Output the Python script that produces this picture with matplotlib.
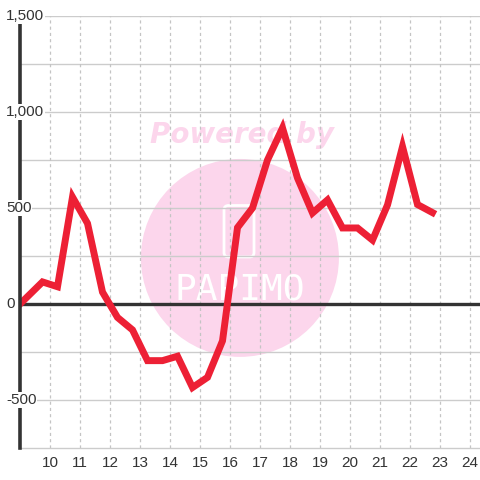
import matplotlib.pyplot as plt
from matplotlib.patches import Ellipse, FancyBboxPatch
import matplotlib.transforms as mtransforms

plt.rcParams['font.family'] = ['Liberation Sans', 'DejaVu Sans']

# data
x_vals = [9.0, 9.75, 10.25, 10.75, 11.25, 11.75, 12.25, 12.75, 13.25, 13.75,
          14.25, 14.75, 15.25, 15.75, 16.25, 16.75, 17.25, 17.75, 18.25, 18.75,
          19.25, 19.75, 20.25, 20.75, 21.25, 21.75, 22.25, 22.75]
y_vals = [0, 115, 90, 557, 420, 62, -70, -135, -295, -295,
          -272, -435, -382, -192, 398, 500, 750, 917, 656, 474,
          542, 396, 396, 333, 516, 820, 518, 476]
x_ticks = list(range(10, 25))
y_label_ticks = [1500, 1000, 500, 0, -500]
y_grid = [-500, -250, 0, 250, 500, 750, 1000, 1250, 1500]

fig = plt.figure(figsize=(4.8, 4.8), dpi=100)
ax = fig.add_axes([20 / 480, 32 / 480, 460 / 480, 432 / 480])
ax.set_xlim(9, 24.333)
ax.set_ylim(-750, 1500)

# watermark
pink = '#FCD6EC'
ax.add_patch(Ellipse((16.33, 240), 6.6, 1031, color=pink, zorder=0, lw=0))
ax.text(16.4, 880, 'Powered by', color=pink, fontsize=20, fontweight='bold',
        fontstyle='italic', family='DejaVu Sans', ha='center', va='center', zorder=0)
ax.add_patch(FancyBboxPatch((15.8, 245), 1.0, 268, boxstyle='round,pad=0,rounding_size=0.15',
                            fill=False, ec='white', lw=2, zorder=0.5,
                            mutation_aspect=156))
ax.text(16.33, 75, 'PAPIMO', color='white', fontsize=26, family='DejaVu Sans Mono',
        ha='center', va='center', zorder=0.5)

# grid
for v in y_grid:
    ax.axhline(v, color='#cccccc', lw=1, zorder=1)
for t in x_ticks:
    ax.axvline(t, color='#c4c4c4', lw=0.9, ls=(0, (2.5, 2.5)), zorder=1)
ax.axhline(0, color='#333333', lw=2.4, zorder=2)

ax.plot(x_vals, y_vals, color='#ED2035', lw=5, solid_joinstyle='miter', zorder=3)

for s in ['top', 'right']:
    ax.spines[s].set_visible(False)
ax.spines['bottom'].set_color('#cccccc')
ax.spines['bottom'].set_linewidth(1)
ax.spines['left'].set_color('#333333')
ax.spines['left'].set_linewidth(2.6)
ax.spines['left'].set_zorder(4)

ax.set_xticks(x_ticks)
ax.set_xticklabels([str(t) for t in x_ticks])
ax.tick_params(axis='x', length=0, pad=6, labelsize=11, labelcolor='#333333')
ax.set_yticks([])

trans = mtransforms.blended_transform_factory(fig.transFigure, ax.transData)
for v in y_label_ticks:
    ax.text(6 / 480, v, f'{v:,}', transform=trans, ha='left', va='center',
            fontsize=11, color='#333333', zorder=5, clip_on=False,
            bbox=dict(facecolor='white', edgecolor='none', pad=0.5))

fig.savefig('out.png', dpi=100)
